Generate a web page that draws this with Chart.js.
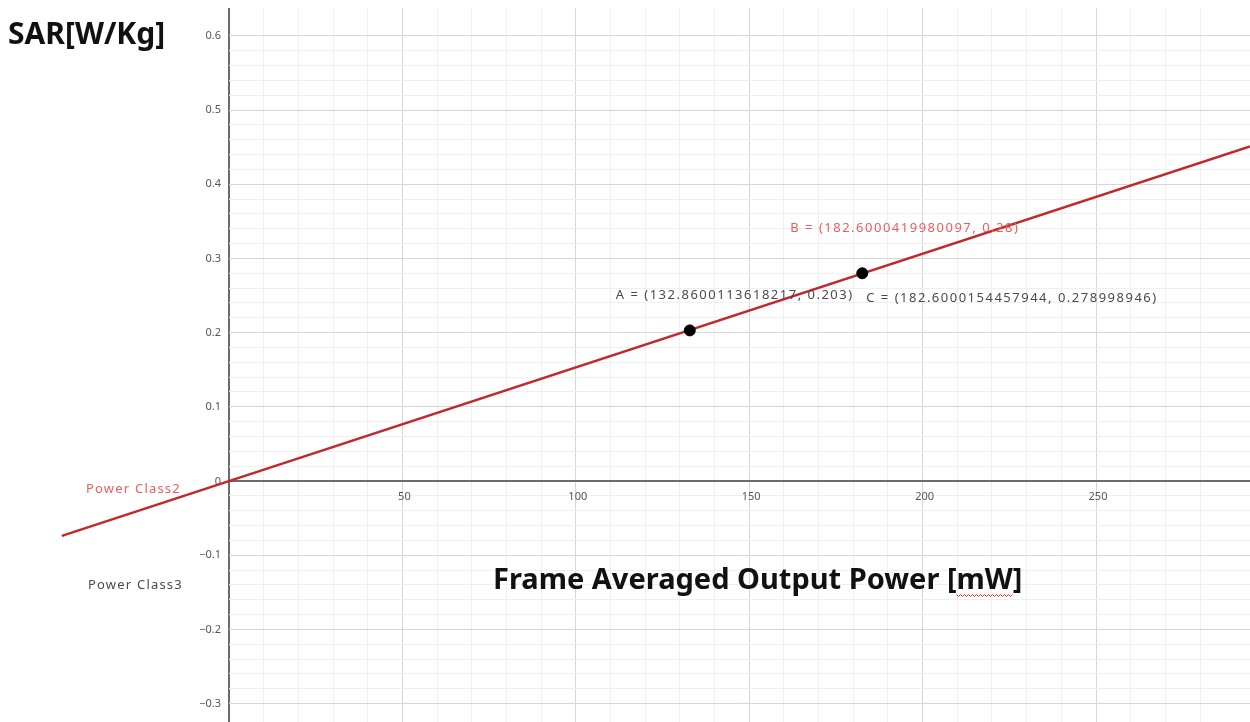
<!DOCTYPE html>
<html>
<head>
<meta charset="utf-8">
<script src="https://cdn.jsdelivr.net/npm/chart.js@4.4.1/dist/chart.umd.min.js"></script>
<style>
  html, body { margin: 0; padding: 0; background: #fff; }
  #wrap { width: 1250px; height: 722px; position: relative; }
</style>
</head>
<body>
<div id="wrap"><canvas id="c" width="1250" height="722"></canvas></div>
<script>
// --- data ---
const lineX = [-48.2, 294.4];
const lineY = [-0.074, 0.451];
const pointX = [132.86, 182.6];
const pointY = [0.203, 0.28];
const pointLabels = [
  'A = (132.8600113618217, 0.203)',
  'B = (182.6000419980097, 0.28)',
  'C = (182.6000154457944, 0.278998946)'
];
const xTickValues = [50, 100, 150, 200, 250];
const xTickLabels = ['50', '100', '150', '200', '250'];
const yTickValues = [0.6, 0.5, 0.4, 0.3, 0.2, 0.1, 0, -0.1, -0.2, -0.3];
const yTickLabels = ['0.6', '0.5', '0.4', '0.3', '0.2', '0.1', '0', '\u22120.1', '\u22120.2', '\u22120.3'];
const classLabels = ['Power Class2', 'Power Class3'];
const yTitle = 'SAR[W/Kg]';
const xTitle = 'Frame Averaged Output Power [mW]';

const FONT = '"Noto Sans", "Open Sans", sans-serif';

function isMult(v, step) {
  const r = v / step;
  return Math.abs(r - Math.round(r)) < 1e-6;
}

function gridColor(step, major) {
  return (c) => {
    const v = c.tick.value;
    if (Math.abs(v) < 1e-9) return '#6b6b6b';
    if (isMult(v, major)) return '#d6d6d6';
    if (isMult(v, step)) return '#efefef';
    return 'rgba(0,0,0,0)';
  };
}
function gridWidth(c) {
  return Math.abs(c.tick.value) < 1e-9 ? 2 : 1;
}

const annot = {
  id: 'annot',
  beforeDatasetsDraw(chart) {
    const { ctx, scales: { x, y } } = chart;
    ctx.save();
    ctx.fillStyle = '#555';
    ctx.font = '11px ' + FONT;
    ctx.textBaseline = 'middle';
    ctx.textAlign = 'center';
    xTickValues.forEach((v, i) => {
      ctx.fillText(xTickLabels[i], x.getPixelForValue(v) + 2, y.getPixelForValue(0) + 16);
    });
    ctx.textAlign = 'right';
    yTickValues.forEach((v, i) => {
      ctx.fillText(yTickLabels[i], x.getPixelForValue(0) - 8, y.getPixelForValue(v) + (v === 0 ? 1 : 0));
    });
    ctx.restore();
  },
  afterDatasetsDraw(chart) {
    const { ctx, scales: { x, y } } = chart;
    ctx.save();
    ctx.textBaseline = 'middle';
    ctx.textAlign = 'left';
    ctx.font = '13px ' + FONT;
    ctx.letterSpacing = '1.5px';
    const ax = x.getPixelForValue(pointX[0]), ay = y.getPixelForValue(pointY[0]);
    const bx = x.getPixelForValue(pointX[1]), by = y.getPixelForValue(pointY[1]);
    ctx.fillStyle = '#4a4a4a';
    ctx.fillText(pointLabels[0], ax - 74, ay - 35);
    ctx.fillText(pointLabels[2], bx + 4, by + 25);
    ctx.fillStyle = '#e8605f';
    ctx.fillText(pointLabels[1], bx - 72, by - 45);

    // class labels
    ctx.letterSpacing = '1.2px';
    ctx.fillStyle = '#e8605f';
    ctx.fillText(classLabels[0], 86, y.getPixelForValue(-0.011));
    ctx.fillStyle = '#4a4a4a';
    ctx.fillText(classLabels[1], 88, y.getPixelForValue(-0.14));

    // titles
    ctx.letterSpacing = '0px';
    ctx.fillStyle = '#111';
    ctx.font = 'bold 30px ' + FONT;
    ctx.fillText(yTitle, 8, 35);
    ctx.font = 'bold 29px ' + FONT;
    const tx = 493, ty = 581;
    ctx.fillText(xTitle, tx, ty);
    // spell-check squiggle under "mW"
    const full = ctx.measureText(xTitle).width;
    const tail = ctx.measureText('mW]').width;
    const br = ctx.measureText(']').width;
    const sx = tx + full - tail, ex = tx + full - br;
    ctx.strokeStyle = '#e03030';
    ctx.lineWidth = 1;
    ctx.beginPath();
    for (let px = sx, k = 0; px <= ex; px += 2, k++) {
      const py = ty + 14 + (k % 2 ? 1.5 : -0.5);
      if (k === 0) ctx.moveTo(px, py); else ctx.lineTo(px, py);
    }
    ctx.stroke();
    ctx.restore();
  }
};

new Chart(document.getElementById('c'), {
  type: 'scatter',
  data: {
    datasets: [
      {
        label: 'line',
        data: lineX.map((v, i) => ({ x: v, y: lineY[i] })),
        showLine: true,
        borderColor: '#c1272d',
        borderWidth: 2.5,
        pointRadius: 0,
        clip: false,
        order: 2
      },
      {
        label: 'points',
        data: pointX.map((v, i) => ({ x: v, y: pointY[i] })),
        backgroundColor: '#000',
        borderColor: '#000',
        pointRadius: 5.5,
        order: 1
      }
    ]
  },
  options: {
    responsive: false,
    animation: false,
    events: [],
    layout: { autoPadding: false, padding: { left: 229, top: 8, right: 0, bottom: 0 } },
    plugins: { legend: { display: false }, tooltip: { enabled: false } },
    scales: {
      x: {
        type: 'linear', min: 0, max: 294.4,
        ticks: { display: false, stepSize: 10 },
        grid: { color: gridColor(10, 50), lineWidth: gridWidth, drawTicks: false, tickLength: 0 },
        border: { display: false }
      },
      y: {
        type: 'linear', min: -0.3248, max: 0.6375,
        ticks: { display: false, stepSize: 0.02 },
        grid: { color: gridColor(0.02, 0.1), lineWidth: gridWidth, drawTicks: false, tickLength: 0 },
        border: { display: false }
      }
    }
  },
  plugins: [annot]
});
</script>
</body>
</html>
